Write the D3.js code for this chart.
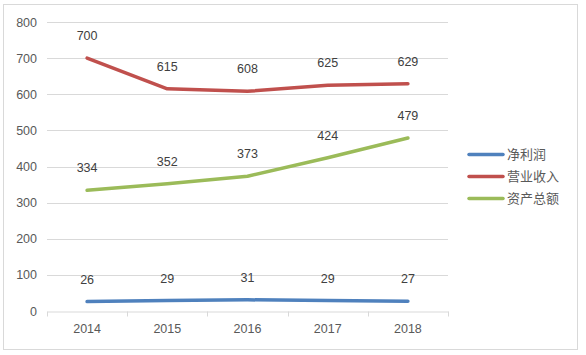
<!DOCTYPE html>
<html><head><meta charset="utf-8">
<script src="https://cdn.jsdelivr.net/npm/d3@7"></script>
<style>
html,body{margin:0;padding:0;background:#fff;}
svg{display:block;}
</style></head>
<body>
<script>
const years = ["2014","2015","2016","2017","2018"];
const netProfit = [26, 29, 31, 29, 27];
const revenue = [700, 615, 608, 625, 629];
const totalAssets = [334, 352, 373, 424, 479];
const seriesNames = ["净利润","营业收入","资产总额"];
const seriesColors = ["#4F81BD","#C0504D","#9BBB59"];
const yTicks = [0,100,200,300,400,500,600,700,800];

const series = [netProfit, revenue, totalAssets].map((v,i)=>({name:seriesNames[i], color:seriesColors[i], values:v}));

const W=586, H=355;
const svg = d3.select("body").append("svg").attr("width",W).attr("height",H);
svg.append("rect").attr("x",3.5).attr("y",4.5).attr("width",574).attr("height",345)
  .attr("fill","#fff").attr("stroke","#d9d9d9").attr("stroke-width",1);

const x = d3.scaleBand().domain(years).range([47,448]);
const y = d3.scaleLinear().domain([0,800]).range([311,22]);
const numFont = "'Liberation Sans', Arial, sans-serif";
const fs = "12.5px";

// gridlines
svg.append("g").selectAll("line").data(yTicks.filter(d=>d>0)).join("line")
  .attr("x1",47).attr("x2",448)
  .attr("y1",d=>Math.round(y(d))+0.5).attr("y2",d=>Math.round(y(d))+0.5)
  .attr("stroke","#d9d9d9").attr("stroke-width",1);

// y labels
const yAxis = d3.axisLeft(y).tickValues(yTicks).tickSize(0).tickPadding(10);
const gy = svg.append("g").attr("transform","translate(47,0)").call(yAxis);
gy.select(".domain").remove();
gy.selectAll("text").attr("font-family",numFont).attr("font-size",fs).attr("fill","#595959");

// x axis
const xAxis = d3.axisBottom(x).tickSize(0).tickPadding(13);
const gx = svg.append("g").attr("transform","translate(0,311.5)").call(xAxis);
gx.select(".domain").attr("stroke","#d9d9d9");
gx.selectAll("text").attr("font-family",numFont).attr("font-size",fs).attr("fill","#595959");
// category boundary ticks
const bounds = years.map(d=>x(d)).concat([x(years[years.length-1])+x.bandwidth()]);
gx.append("g").selectAll("line").data(bounds).join("line")
  .attr("x1",d=>Math.round(d)+0.5).attr("x2",d=>Math.round(d)+0.5)
  .attr("y1",0).attr("y2",5).attr("stroke","#d9d9d9");

const cx = d=>x(d)+x.bandwidth()/2;
const line = d3.line().x((d,i)=>cx(years[i])).y(d=>y(d));

series.forEach(s=>{
  svg.append("path").datum(s.values).attr("d",line)
    .attr("fill","none").attr("stroke",s.color).attr("stroke-width",3.5)
    .attr("stroke-linejoin","round").attr("stroke-linecap","round");
  svg.append("g").selectAll("text").data(s.values).join("text")
    .attr("x",(d,i)=>cx(years[i])).attr("y",d=>y(d)-18)
    .attr("text-anchor","middle").attr("font-family",numFont).attr("font-size",fs)
    .attr("fill","#404040").text(d=>d);
});

// legend
const lg = svg.append("g");
series.forEach((s,i)=>{
  const yy = 154.5 + i*22;
  lg.append("line").attr("x1",469).attr("x2",503).attr("y1",yy).attr("y2",yy)
    .attr("stroke",s.color).attr("stroke-width",3.5).attr("stroke-linecap","round");
  lg.append("text").attr("x",507).attr("y",yy).attr("dy","0.36em")
    .attr("font-family","'Noto Sans CJK SC', sans-serif").attr("font-size","13px")
    .attr("fill","#595959").text(s.name);
});
</script>
</body></html>
